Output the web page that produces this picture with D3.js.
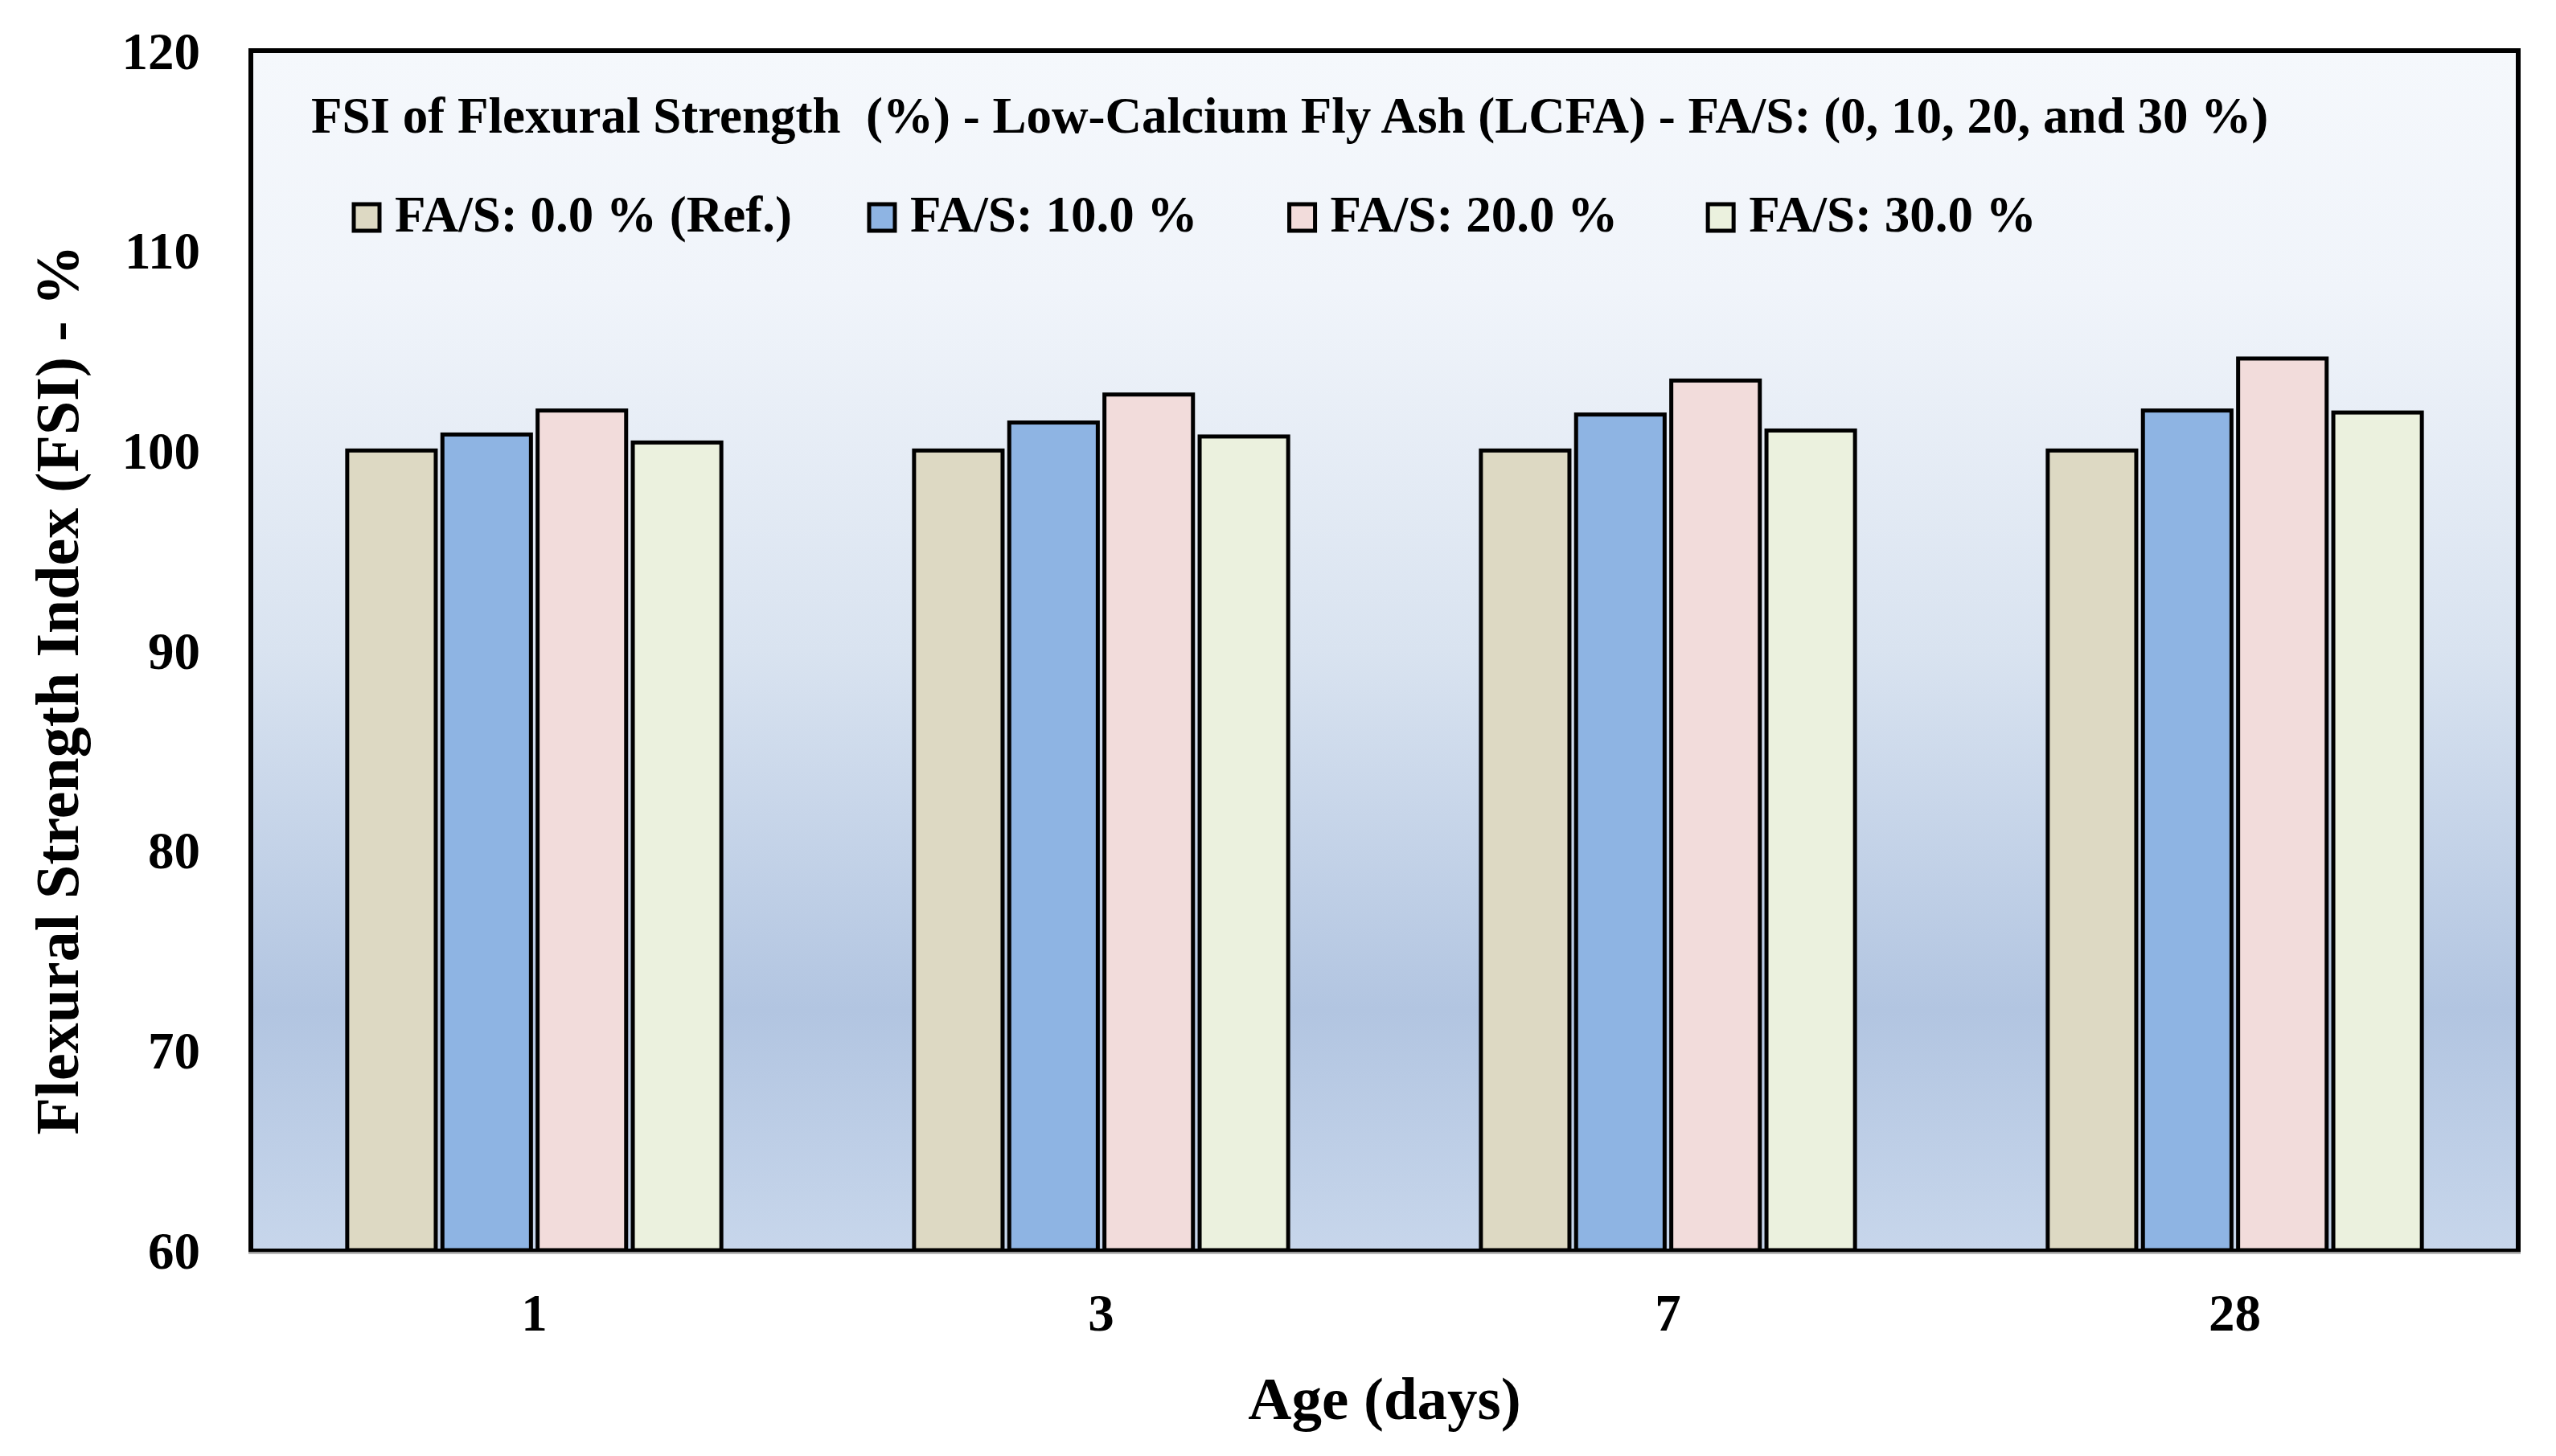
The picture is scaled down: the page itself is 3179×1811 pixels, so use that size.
<!DOCTYPE html>
<html>
<head>
<meta charset="utf-8">
<script src="https://cdn.jsdelivr.net/npm/d3@7"></script>
<style>
  body { margin: 0; background: #fff; }
  text { font-family: "Liberation Serif", "Times New Roman", serif; font-weight: bold; fill: #000; }
</style>
</head>
<body>
<div id="chart"></div>
<script>
var ages = ["1", "3", "7", "28"];
var seriesNames = ["FA/S: 0.0 % (Ref.)", "FA/S: 10.0 %", "FA/S: 20.0 %", "FA/S: 30.0 %"];
var fa0 = [100, 100, 100, 100];
var fa10 = [100.8, 101.4, 101.8, 102.0];
var fa20 = [102.0, 102.8, 103.5, 104.6];
var fa30 = [100.4, 100.7, 101.0, 101.9];
var yTicks = [60, 70, 80, 90, 100, 110, 120];
var titleText = "FSI of Flexural Strength  (%) - Low-Calcium Fly Ash (LCFA) - FA/S: (0, 10, 20, and 30 %)";

var allSeries = [fa0, fa10, fa20, fa30];
var colors = ["#DDD9C3", "#8EB4E3", "#F2DCDB", "#EBF1DE"];

var width = 3179,
    height = 1811;
var plotLeft = 312, plotRight = 3132, plotTop = 63, plotBottom = 1555;

var svg = d3.select("#chart").append("svg")
  .attr("width", width)
  .attr("height", height);

// plot area background gradient
var grad = svg.append("defs").append("linearGradient")
  .attr("id", "bg")
  .attr("x1", 0).attr("y1", 0).attr("x2", 0).attr("y2", 1);
grad.append("stop").attr("offset", "0").attr("stop-color", "#f5f8fc");
grad.append("stop").attr("offset", "0.2").attr("stop-color", "#f0f4fa");
grad.append("stop").attr("offset", "0.5").attr("stop-color", "#d9e3f0");
grad.append("stop").attr("offset", "0.8").attr("stop-color", "#b2c5e1");
grad.append("stop").attr("offset", "1").attr("stop-color", "#c7d6eb");

var x = d3.scaleBand()
  .domain(ages)
  .range([plotLeft, plotRight])
  .paddingInner(0.34)
  .paddingOuter(0.17);

var xs = d3.scaleBand()
  .domain(d3.range(seriesNames.length))
  .range([0, x.bandwidth()])
  .paddingInner(0.07);

var y = d3.scaleLinear()
  .domain([60, 120])
  .range([plotBottom, plotTop]);

svg.append("rect")
  .attr("x", plotLeft).attr("y", plotTop)
  .attr("width", plotRight - plotLeft).attr("height", plotBottom - plotTop)
  .attr("fill", "url(#bg)");

// bars
var groups = svg.selectAll("g.age")
  .data(ages)
  .enter().append("g")
  .attr("class", "age")
  .attr("transform", function(d) { return "translate(" + x(d) + ",0)"; });

groups.selectAll("rect")
  .data(function(d, i) { return allSeries.map(function(s, j) { return { s: j, v: s[i] }; }); })
  .enter().append("rect")
  .attr("x", function(d) { return xs(d.s); })
  .attr("y", function(d) { return y(d.v); })
  .attr("width", xs.bandwidth())
  .attr("height", function(d) { return y(60) - y(d.v); })
  .attr("fill", function(d) { return colors[d.s]; })
  .attr("stroke", "#000")
  .attr("stroke-width", 5);

// frame
svg.append("path")
  .attr("d", "M" + plotLeft + "," + plotBottom + "V" + plotTop + "H" + plotRight + "V" + plotBottom)
  .attr("fill", "none")
  .attr("stroke", "#000")
  .attr("stroke-width", 6);

// x axis line
svg.append("line")
  .attr("x1", plotLeft - 3).attr("x2", plotRight + 3)
  .attr("y1", plotBottom + 3).attr("y2", plotBottom + 3)
  .attr("stroke", "#999").attr("stroke-width", 3);
svg.append("line")
  .attr("x1", plotLeft - 3).attr("x2", plotRight + 3)
  .attr("y1", plotBottom).attr("y2", plotBottom)
  .attr("stroke", "#000").attr("stroke-width", 4);

// y axis tick labels
var yAxis = d3.axisLeft(y).tickValues(yTicks).tickSize(0).tickPadding(0);
var yg = svg.append("g")
  .attr("transform", "translate(249,0)")
  .call(yAxis);
yg.select(".domain").remove();
yg.selectAll("text")
  .attr("x", 0)
  .attr("dy", "0.34em")
  .style("font-family", "Liberation Serif")
  .style("font-weight", "bold")
  .style("font-size", "65px")
  .attr("fill", "#000");

// x axis tick labels
var xAxis = d3.axisBottom(x).tickSize(0).tickPadding(0);
var xg = svg.append("g")
  .attr("transform", "translate(0," + plotBottom + ")")
  .call(xAxis);
xg.select(".domain").remove();
xg.selectAll("text")
  .attr("y", 100)
  .attr("dy", 0)
  .style("font-family", "Liberation Serif")
  .style("font-weight", "bold")
  .style("font-size", "65px")
  .attr("fill", "#000");

// axis titles
svg.append("text")
  .attr("x", (plotLeft + plotRight) / 2)
  .attr("y", 1765)
  .attr("text-anchor", "middle")
  .style("font-size", "75px")
  .text("Age (days)");

svg.append("text")
  .attr("transform", "translate(97,858) rotate(-90)")
  .attr("text-anchor", "middle")
  .style("font-size", "76px")
  .text("Flexural Strength Index (FSI) - %");

// chart title
svg.append("text")
  .attr("x", 387)
  .attr("y", 165)
  .style("font-size", "63px")
  .style("white-space", "pre")
  .text(titleText);

// legend
var lx = 440;
var legendGaps = [96, 114, 112];
seriesNames.forEach(function(name, i) {
  var item = svg.append("g").attr("transform", "translate(" + lx + ",0)");
  item.append("rect")
    .attr("x", 0).attr("y", 254)
    .attr("width", 32).attr("height", 33)
    .attr("fill", colors[i])
    .attr("stroke", "#000")
    .attr("stroke-width", 5);
  var t = item.append("text")
    .attr("x", 51)
    .attr("y", 288)
    .style("font-size", "63px")
    .text(name);
  lx += 51 + t.node().getComputedTextLength() + (legendGaps[i] || 0);
});
</script>
</body>
</html>
